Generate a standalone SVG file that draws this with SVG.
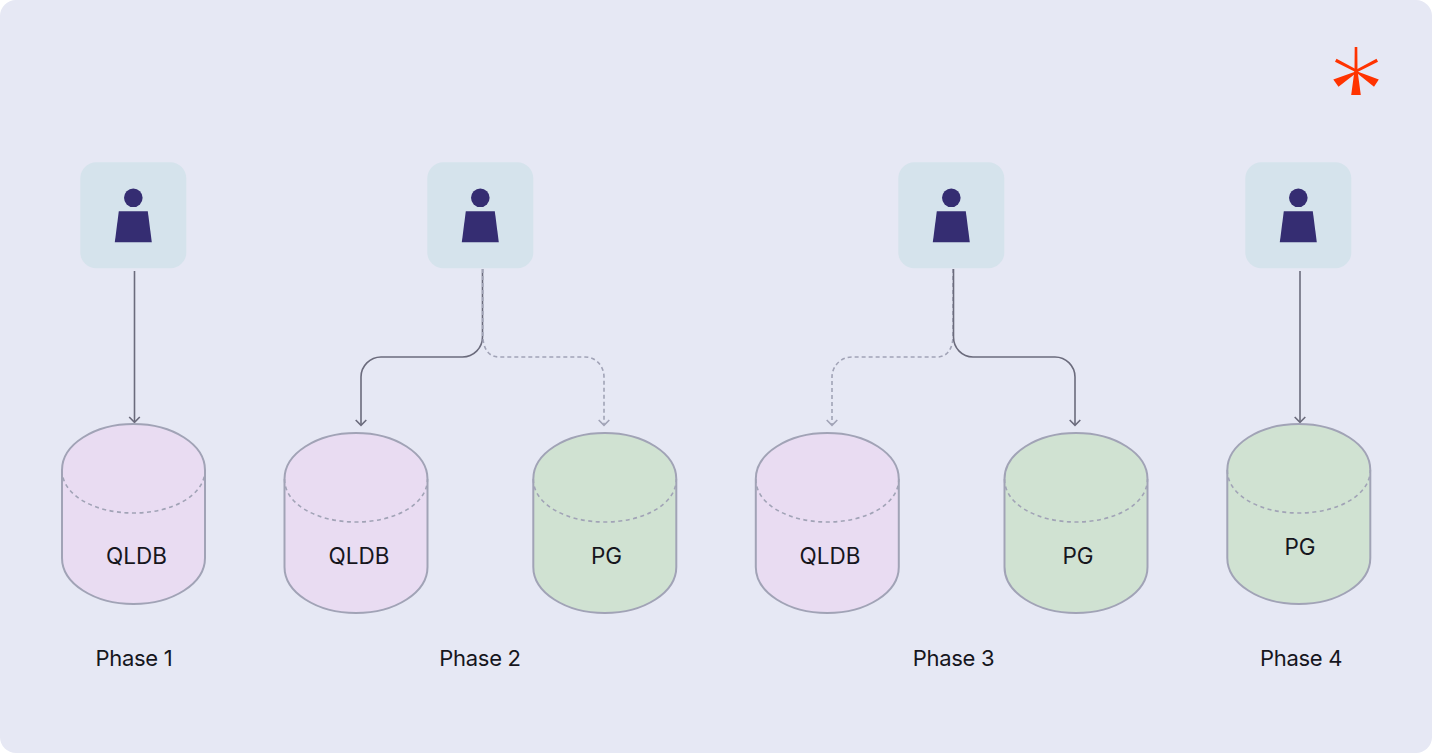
<svg xmlns="http://www.w3.org/2000/svg" xmlns:xlink="http://www.w3.org/1999/xlink" width="1432" height="753" viewBox="0 0 1432 753">
<style>
.card{fill:#d5e3ec}
.ic{fill:#352d72}
.cyl{stroke:#a1a3b6;stroke-width:2}
.q{fill:#e9dcf2}
.p{fill:#d0e2d2}
.rim{fill:none;stroke:#a1a3b6;stroke-width:1.6;stroke-dasharray:4 3.500}
.solid{fill:none;stroke:#6b6b7c;stroke-width:1.6}
.dash{fill:none;stroke:#a1a3b6;stroke-width:1.6;stroke-dasharray:4 3}
.hs{fill:none;stroke:#6b6b7c;stroke-width:1.6}
.hd{fill:none;stroke:#a1a3b6;stroke-width:1.6}
text{font-family:Inter,"Liberation Sans",sans-serif;font-size:22px;fill:#16161d;text-anchor:middle;letter-spacing:-0.3px}
.db{font-size:22.500px;letter-spacing:0}
</style>
<defs>
<g id="user">
<rect class="card" x="-53" y="-53" width="106" height="106" rx="16"/>
<circle class="ic" cx="0" cy="-17.500" r="9.300"/>
<path class="ic" d="M-14.500-4H14.500L18.500 27H-18.500Z"/>
</g>
<g id="cylq">
<path class="cyl q" d="M-71.500 46C-71.500 20.600-39.500 0 0 0S71.500 20.600 71.500 46V134C71.500 159.400 39.500 180 0 180S-71.500 159.400-71.500 134Z"/>
<path class="rim" d="M-71.500 46C-71.500 71-39.500 89 0 89S71.500 71 71.500 46"/>
</g>
<g id="cylp">
<path class="cyl p" d="M-71.500 46C-71.500 20.600-39.500 0 0 0S71.500 20.600 71.500 46V134C71.500 159.400 39.500 180 0 180S-71.500 159.400-71.500 134Z"/>
<path class="rim" d="M-71.500 46C-71.500 71-39.500 89 0 89S71.500 71 71.500 46"/>
</g>
</defs>
<rect id="background" width="1432" height="753" rx="16" fill="#e6e8f4"/>
<g id="logo" fill="#ff3300">
<path d="M1354.700 47H1357.300L1357.500 70.500L1360.800 95H1351.200L1354.500 70.500Z"/>
<path d="M1335 61.800L1336.500 58.800L1356.500 69.500L1376.500 58.800L1378 61.800L1358 71.800L1378.800 79.500L1374 86.800L1356.500 72.800L1338.500 86.800L1333.300 79.500L1355 71.800Z"/>
</g>
<g id="connectors">
<path class="solid" d="M134.500 271V422"/><path class="hs" d="M129.200 417L134.500 422.300L139.800 417"/>
<path class="solid" d="M482.500 269V337C482.500 348 473.500 357 462.500 357H381C370 357 361 366 361 377V425"/>
<path class="hs" d="M355.700 420L361 425.300L366.300 420"/>
<path class="dash" d="M482.800 269V337C483.500 348 488 357 499 357H585C596 357 604 366 604 377V425"/>
<path class="hd" d="M598.700 420L604 425.300L609.300 420"/>
<path class="dash" d="M953 269V337C952.500 348 948 357 937 357H852C841 357 832 366 832 377V425"/>
<path class="hd" d="M826.700 420L832 425.300L837.300 420"/>
<path class="solid" d="M953.500 269V337C953.500 348 962 357 973 357H1055C1066 357 1075 366 1075 377V425"/>
<path class="hs" d="M1069.700 420L1075 425.300L1080.300 420"/>
<path class="solid" d="M1300 271V422"/><path class="hs" d="M1294.700 417L1300 422.300L1305.300 417"/>
</g>
<g id="user1"><use xlink:href="#user" href="#user" transform="translate(133.300 215.300)"/></g>
<g id="user2"><use xlink:href="#user" href="#user" transform="translate(480.300 215.300)"/></g>
<g id="user3"><use xlink:href="#user" href="#user" transform="translate(951.300 215.300)"/></g>
<g id="user4"><use xlink:href="#user" href="#user" transform="translate(1298.300 215.300)"/></g>
<g id="db1"><use xlink:href="#cylq" href="#cylq" transform="translate(133.500 424)"/><text class="db" x="136.500" y="564">QLDB</text></g>
<g id="db2"><use xlink:href="#cylq" href="#cylq" transform="translate(356 433)"/><text class="db" x="359" y="564">QLDB</text></g>
<g id="db3"><use xlink:href="#cylp" href="#cylp" transform="translate(604.800 433)"/><text class="db" x="606.500" y="564">PG</text></g>
<g id="db4"><use xlink:href="#cylq" href="#cylq" transform="translate(827.300 433)"/><text class="db" x="830" y="564">QLDB</text></g>
<g id="db5"><use xlink:href="#cylp" href="#cylp" transform="translate(1076 433)"/><text class="db" x="1078" y="564">PG</text></g>
<g id="db6"><use xlink:href="#cylp" href="#cylp" transform="translate(1298.800 424)"/><text class="db" x="1300" y="555">PG</text></g>
<g id="labels">
<text x="134" y="666">Phase 1</text>
<text x="480" y="665.500">Phase 2</text>
<text x="953.500" y="665.500">Phase 3</text>
<text x="1301" y="666">Phase 4</text>
</g>
</svg>
